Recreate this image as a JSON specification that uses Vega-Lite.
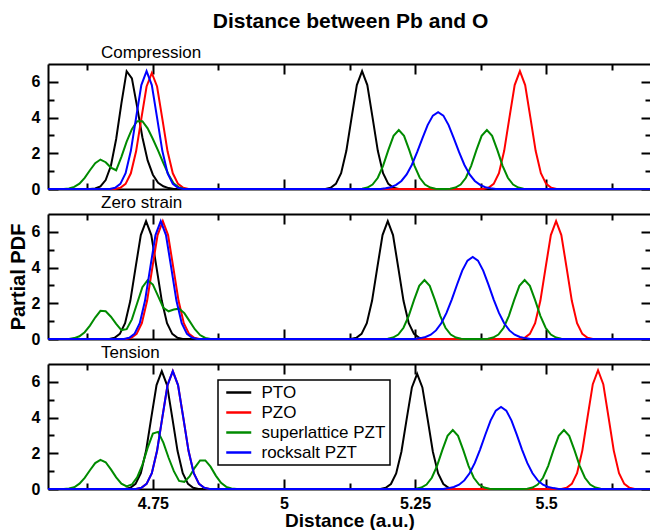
{
"$schema":"https://vega.github.io/schema/vega-lite/v6.json",
"padding":{"left":8,"top":11,"right":0,"bottom":0},
"background":"white",
"title":{"text":"Distance between Pb and O","fontSize":21,"fontWeight":"bold","font":"Liberation Sans","color":"black","anchor":"middle","dx":19,"offset":12},
"config":{
 "view":{"stroke":null},
 "axis":{"domainColor":"black","domainWidth":2,"tickColor":"black","tickWidth":2,"labelFont":"Liberation Sans","labelFontWeight":"bold","labelFontSize":16,"labelColor":"black","titleFont":"Liberation Sans","titleFontWeight":"bold","titleFontSize":19,"titleColor":"black","grid":false},
 "legend":{"strokeWidth":1.5},
 "title":{"font":"Liberation Sans","color":"black"}
},
"data":{"values":[
{"p":"C","s":"PTO","x":4.55,"y":0},{"p":"C","s":"PTO","x":4.63,"y":0},{"p":"C","s":"PTO","x":4.64,"y":0.03},{"p":"C","s":"PTO","x":4.65,"y":0.15},{"p":"C","s":"PTO","x":4.66,"y":0.5},{"p":"C","s":"PTO","x":4.67,"y":1.3},{"p":"C","s":"PTO","x":4.68,"y":2.8},{"p":"C","s":"PTO","x":4.69,"y":4.8},{"p":"C","s":"PTO","x":4.70,"y":6.6},{"p":"C","s":"PTO","x":4.71,"y":6.2},{"p":"C","s":"PTO","x":4.72,"y":4.6},{"p":"C","s":"PTO","x":4.73,"y":2.9},{"p":"C","s":"PTO","x":4.74,"y":1.6},{"p":"C","s":"PTO","x":4.75,"y":0.8},{"p":"C","s":"PTO","x":4.76,"y":0.35},{"p":"C","s":"PTO","x":4.77,"y":0.15},{"p":"C","s":"PTO","x":4.78,"y":0.05},{"p":"C","s":"PTO","x":4.79,"y":0},
{"p":"C","s":"PTO","x":5.079,"y":0},{"p":"C","s":"PTO","x":5.089,"y":0.07},{"p":"C","s":"PTO","x":5.099,"y":0.29},{"p":"C","s":"PTO","x":5.109,"y":0.89},{"p":"C","s":"PTO","x":5.119,"y":2.14},{"p":"C","s":"PTO","x":5.129,"y":4.0},{"p":"C","s":"PTO","x":5.139,"y":5.82},{"p":"C","s":"PTO","x":5.149,"y":6.6},{"p":"C","s":"PTO","x":5.159,"y":5.82},{"p":"C","s":"PTO","x":5.169,"y":4.0},{"p":"C","s":"PTO","x":5.179,"y":2.14},{"p":"C","s":"PTO","x":5.189,"y":0.89},{"p":"C","s":"PTO","x":5.199,"y":0.29},{"p":"C","s":"PTO","x":5.209,"y":0.07},{"p":"C","s":"PTO","x":5.219,"y":0},{"p":"C","s":"PTO","x":5.70,"y":0},
{"p":"C","s":"PZO","x":4.55,"y":0},{"p":"C","s":"PZO","x":4.678,"y":0},{"p":"C","s":"PZO","x":4.688,"y":0.07},{"p":"C","s":"PZO","x":4.698,"y":0.29},{"p":"C","s":"PZO","x":4.708,"y":0.88},{"p":"C","s":"PZO","x":4.718,"y":2.11},{"p":"C","s":"PZO","x":4.728,"y":3.94},{"p":"C","s":"PZO","x":4.738,"y":5.74},{"p":"C","s":"PZO","x":4.748,"y":6.5},{"p":"C","s":"PZO","x":4.758,"y":5.74},{"p":"C","s":"PZO","x":4.768,"y":3.94},{"p":"C","s":"PZO","x":4.778,"y":2.11},{"p":"C","s":"PZO","x":4.788,"y":0.88},{"p":"C","s":"PZO","x":4.798,"y":0.29},{"p":"C","s":"PZO","x":4.808,"y":0.07},{"p":"C","s":"PZO","x":4.818,"y":0},
{"p":"C","s":"PZO","x":5.38,"y":0},{"p":"C","s":"PZO","x":5.39,"y":0.07},{"p":"C","s":"PZO","x":5.40,"y":0.29},{"p":"C","s":"PZO","x":5.41,"y":0.89},{"p":"C","s":"PZO","x":5.42,"y":2.14},{"p":"C","s":"PZO","x":5.43,"y":4.0},{"p":"C","s":"PZO","x":5.44,"y":5.82},{"p":"C","s":"PZO","x":5.45,"y":6.6},{"p":"C","s":"PZO","x":5.46,"y":5.82},{"p":"C","s":"PZO","x":5.47,"y":4.0},{"p":"C","s":"PZO","x":5.48,"y":2.14},{"p":"C","s":"PZO","x":5.49,"y":0.89},{"p":"C","s":"PZO","x":5.50,"y":0.29},{"p":"C","s":"PZO","x":5.51,"y":0.07},{"p":"C","s":"PZO","x":5.52,"y":0},{"p":"C","s":"PZO","x":5.70,"y":0},
{"p":"C","s":"superlattice PZT","x":4.55,"y":0},{"p":"C","s":"superlattice PZT","x":4.58,"y":0},{"p":"C","s":"superlattice PZT","x":4.59,"y":0.03},{"p":"C","s":"superlattice PZT","x":4.60,"y":0.12},{"p":"C","s":"superlattice PZT","x":4.61,"y":0.3},{"p":"C","s":"superlattice PZT","x":4.62,"y":0.62},{"p":"C","s":"superlattice PZT","x":4.63,"y":1.05},{"p":"C","s":"superlattice PZT","x":4.64,"y":1.45},{"p":"C","s":"superlattice PZT","x":4.65,"y":1.65},{"p":"C","s":"superlattice PZT","x":4.66,"y":1.5},{"p":"C","s":"superlattice PZT","x":4.67,"y":1.2},{"p":"C","s":"superlattice PZT","x":4.68,"y":1.05},{"p":"C","s":"superlattice PZT","x":4.69,"y":1.8},{"p":"C","s":"superlattice PZT","x":4.70,"y":2.65},{"p":"C","s":"superlattice PZT","x":4.71,"y":3.35},{"p":"C","s":"superlattice PZT","x":4.72,"y":3.8},{"p":"C","s":"superlattice PZT","x":4.73,"y":3.8},{"p":"C","s":"superlattice PZT","x":4.74,"y":3.4},{"p":"C","s":"superlattice PZT","x":4.75,"y":2.8},{"p":"C","s":"superlattice PZT","x":4.76,"y":2.15},{"p":"C","s":"superlattice PZT","x":4.77,"y":1.45},{"p":"C","s":"superlattice PZT","x":4.78,"y":0.8},{"p":"C","s":"superlattice PZT","x":4.79,"y":0.3},{"p":"C","s":"superlattice PZT","x":4.80,"y":0.08},{"p":"C","s":"superlattice PZT","x":4.81,"y":0},
{"p":"C","s":"superlattice PZT","x":5.139,"y":0},{"p":"C","s":"superlattice PZT","x":5.149,"y":0.02},{"p":"C","s":"superlattice PZT","x":5.159,"y":0.08},{"p":"C","s":"superlattice PZT","x":5.169,"y":0.25},{"p":"C","s":"superlattice PZT","x":5.179,"y":0.63},{"p":"C","s":"superlattice PZT","x":5.189,"y":1.3},{"p":"C","s":"superlattice PZT","x":5.199,"y":2.18},{"p":"C","s":"superlattice PZT","x":5.209,"y":2.98},{"p":"C","s":"superlattice PZT","x":5.219,"y":3.3},{"p":"C","s":"superlattice PZT","x":5.229,"y":2.98},{"p":"C","s":"superlattice PZT","x":5.239,"y":2.18},{"p":"C","s":"superlattice PZT","x":5.249,"y":1.3},{"p":"C","s":"superlattice PZT","x":5.259,"y":0.63},{"p":"C","s":"superlattice PZT","x":5.269,"y":0.25},{"p":"C","s":"superlattice PZT","x":5.279,"y":0.08},{"p":"C","s":"superlattice PZT","x":5.289,"y":0.02},{"p":"C","s":"superlattice PZT","x":5.299,"y":0},
{"p":"C","s":"superlattice PZT","x":5.307,"y":0},{"p":"C","s":"superlattice PZT","x":5.317,"y":0.02},{"p":"C","s":"superlattice PZT","x":5.327,"y":0.08},{"p":"C","s":"superlattice PZT","x":5.337,"y":0.25},{"p":"C","s":"superlattice PZT","x":5.347,"y":0.63},{"p":"C","s":"superlattice PZT","x":5.357,"y":1.3},{"p":"C","s":"superlattice PZT","x":5.367,"y":2.18},{"p":"C","s":"superlattice PZT","x":5.377,"y":2.98},{"p":"C","s":"superlattice PZT","x":5.387,"y":3.3},{"p":"C","s":"superlattice PZT","x":5.397,"y":2.98},{"p":"C","s":"superlattice PZT","x":5.407,"y":2.18},{"p":"C","s":"superlattice PZT","x":5.417,"y":1.3},{"p":"C","s":"superlattice PZT","x":5.427,"y":0.63},{"p":"C","s":"superlattice PZT","x":5.437,"y":0.25},{"p":"C","s":"superlattice PZT","x":5.447,"y":0.08},{"p":"C","s":"superlattice PZT","x":5.457,"y":0.02},{"p":"C","s":"superlattice PZT","x":5.467,"y":0},{"p":"C","s":"superlattice PZT","x":5.70,"y":0},
{"p":"C","s":"rocksalt PZT","x":4.55,"y":0},{"p":"C","s":"rocksalt PZT","x":4.668,"y":0},{"p":"C","s":"rocksalt PZT","x":4.678,"y":0.07},{"p":"C","s":"rocksalt PZT","x":4.688,"y":0.29},{"p":"C","s":"rocksalt PZT","x":4.698,"y":0.89},{"p":"C","s":"rocksalt PZT","x":4.708,"y":2.14},{"p":"C","s":"rocksalt PZT","x":4.718,"y":4.0},{"p":"C","s":"rocksalt PZT","x":4.728,"y":5.82},{"p":"C","s":"rocksalt PZT","x":4.738,"y":6.6},{"p":"C","s":"rocksalt PZT","x":4.748,"y":5.82},{"p":"C","s":"rocksalt PZT","x":4.758,"y":4.0},{"p":"C","s":"rocksalt PZT","x":4.768,"y":2.14},{"p":"C","s":"rocksalt PZT","x":4.778,"y":0.89},{"p":"C","s":"rocksalt PZT","x":4.788,"y":0.29},{"p":"C","s":"rocksalt PZT","x":4.798,"y":0.07},{"p":"C","s":"rocksalt PZT","x":4.808,"y":0},
{"p":"C","s":"rocksalt PZT","x":5.184,"y":0},{"p":"C","s":"rocksalt PZT","x":5.194,"y":0.04},{"p":"C","s":"rocksalt PZT","x":5.204,"y":0.1},{"p":"C","s":"rocksalt PZT","x":5.214,"y":0.23},{"p":"C","s":"rocksalt PZT","x":5.224,"y":0.45},{"p":"C","s":"rocksalt PZT","x":5.234,"y":0.82},{"p":"C","s":"rocksalt PZT","x":5.244,"y":1.36},{"p":"C","s":"rocksalt PZT","x":5.254,"y":2.06},{"p":"C","s":"rocksalt PZT","x":5.264,"y":2.84},{"p":"C","s":"rocksalt PZT","x":5.274,"y":3.58},{"p":"C","s":"rocksalt PZT","x":5.284,"y":4.11},{"p":"C","s":"rocksalt PZT","x":5.294,"y":4.3},{"p":"C","s":"rocksalt PZT","x":5.304,"y":4.11},{"p":"C","s":"rocksalt PZT","x":5.314,"y":3.58},{"p":"C","s":"rocksalt PZT","x":5.324,"y":2.84},{"p":"C","s":"rocksalt PZT","x":5.334,"y":2.06},{"p":"C","s":"rocksalt PZT","x":5.344,"y":1.36},{"p":"C","s":"rocksalt PZT","x":5.354,"y":0.82},{"p":"C","s":"rocksalt PZT","x":5.364,"y":0.45},{"p":"C","s":"rocksalt PZT","x":5.374,"y":0.23},{"p":"C","s":"rocksalt PZT","x":5.384,"y":0.1},{"p":"C","s":"rocksalt PZT","x":5.394,"y":0.04},{"p":"C","s":"rocksalt PZT","x":5.404,"y":0},{"p":"C","s":"rocksalt PZT","x":5.70,"y":0},
{"p":"Z","s":"PTO","x":4.55,"y":0},{"p":"Z","s":"PTO","x":4.667,"y":0},{"p":"Z","s":"PTO","x":4.677,"y":0.07},{"p":"Z","s":"PTO","x":4.687,"y":0.29},{"p":"Z","s":"PTO","x":4.697,"y":0.89},{"p":"Z","s":"PTO","x":4.707,"y":2.14},{"p":"Z","s":"PTO","x":4.717,"y":4.0},{"p":"Z","s":"PTO","x":4.727,"y":5.82},{"p":"Z","s":"PTO","x":4.737,"y":6.6},{"p":"Z","s":"PTO","x":4.747,"y":5.82},{"p":"Z","s":"PTO","x":4.757,"y":4.0},{"p":"Z","s":"PTO","x":4.767,"y":2.14},{"p":"Z","s":"PTO","x":4.777,"y":0.89},{"p":"Z","s":"PTO","x":4.787,"y":0.29},{"p":"Z","s":"PTO","x":4.797,"y":0.07},{"p":"Z","s":"PTO","x":4.807,"y":0},
{"p":"Z","s":"PTO","x":5.128,"y":0},{"p":"Z","s":"PTO","x":5.138,"y":0.07},{"p":"Z","s":"PTO","x":5.148,"y":0.29},{"p":"Z","s":"PTO","x":5.158,"y":0.89},{"p":"Z","s":"PTO","x":5.168,"y":2.14},{"p":"Z","s":"PTO","x":5.178,"y":4.0},{"p":"Z","s":"PTO","x":5.188,"y":5.82},{"p":"Z","s":"PTO","x":5.198,"y":6.6},{"p":"Z","s":"PTO","x":5.208,"y":5.82},{"p":"Z","s":"PTO","x":5.218,"y":4.0},{"p":"Z","s":"PTO","x":5.228,"y":2.14},{"p":"Z","s":"PTO","x":5.238,"y":0.89},{"p":"Z","s":"PTO","x":5.248,"y":0.29},{"p":"Z","s":"PTO","x":5.258,"y":0.07},{"p":"Z","s":"PTO","x":5.268,"y":0},{"p":"Z","s":"PTO","x":5.70,"y":0},
{"p":"Z","s":"PZO","x":4.55,"y":0},{"p":"Z","s":"PZO","x":4.699,"y":0},{"p":"Z","s":"PZO","x":4.709,"y":0.07},{"p":"Z","s":"PZO","x":4.719,"y":0.29},{"p":"Z","s":"PZO","x":4.729,"y":0.89},{"p":"Z","s":"PZO","x":4.739,"y":2.14},{"p":"Z","s":"PZO","x":4.749,"y":4.0},{"p":"Z","s":"PZO","x":4.759,"y":5.82},{"p":"Z","s":"PZO","x":4.769,"y":6.6},{"p":"Z","s":"PZO","x":4.779,"y":5.82},{"p":"Z","s":"PZO","x":4.789,"y":4.0},{"p":"Z","s":"PZO","x":4.799,"y":2.14},{"p":"Z","s":"PZO","x":4.809,"y":0.89},{"p":"Z","s":"PZO","x":4.819,"y":0.29},{"p":"Z","s":"PZO","x":4.829,"y":0.07},{"p":"Z","s":"PZO","x":4.839,"y":0},
{"p":"Z","s":"PZO","x":5.449,"y":0},{"p":"Z","s":"PZO","x":5.459,"y":0.07},{"p":"Z","s":"PZO","x":5.469,"y":0.29},{"p":"Z","s":"PZO","x":5.479,"y":0.89},{"p":"Z","s":"PZO","x":5.489,"y":2.14},{"p":"Z","s":"PZO","x":5.499,"y":4.0},{"p":"Z","s":"PZO","x":5.509,"y":5.82},{"p":"Z","s":"PZO","x":5.519,"y":6.6},{"p":"Z","s":"PZO","x":5.529,"y":5.82},{"p":"Z","s":"PZO","x":5.539,"y":4.0},{"p":"Z","s":"PZO","x":5.549,"y":2.14},{"p":"Z","s":"PZO","x":5.559,"y":0.89},{"p":"Z","s":"PZO","x":5.569,"y":0.29},{"p":"Z","s":"PZO","x":5.579,"y":0.07},{"p":"Z","s":"PZO","x":5.589,"y":0},{"p":"Z","s":"PZO","x":5.70,"y":0},
{"p":"Z","s":"superlattice PZT","x":4.55,"y":0},{"p":"Z","s":"superlattice PZT","x":4.59,"y":0},{"p":"Z","s":"superlattice PZT","x":4.60,"y":0.05},{"p":"Z","s":"superlattice PZT","x":4.61,"y":0.15},{"p":"Z","s":"superlattice PZT","x":4.62,"y":0.38},{"p":"Z","s":"superlattice PZT","x":4.63,"y":0.75},{"p":"Z","s":"superlattice PZT","x":4.64,"y":1.2},{"p":"Z","s":"superlattice PZT","x":4.65,"y":1.58},{"p":"Z","s":"superlattice PZT","x":4.66,"y":1.55},{"p":"Z","s":"superlattice PZT","x":4.67,"y":1.25},{"p":"Z","s":"superlattice PZT","x":4.68,"y":0.85},{"p":"Z","s":"superlattice PZT","x":4.69,"y":0.5},{"p":"Z","s":"superlattice PZT","x":4.70,"y":0.55},{"p":"Z","s":"superlattice PZT","x":4.71,"y":1.1},{"p":"Z","s":"superlattice PZT","x":4.72,"y":2.0},{"p":"Z","s":"superlattice PZT","x":4.73,"y":2.9},{"p":"Z","s":"superlattice PZT","x":4.74,"y":3.29},{"p":"Z","s":"superlattice PZT","x":4.75,"y":3.05},{"p":"Z","s":"superlattice PZT","x":4.76,"y":2.4},{"p":"Z","s":"superlattice PZT","x":4.77,"y":1.75},{"p":"Z","s":"superlattice PZT","x":4.78,"y":1.55},{"p":"Z","s":"superlattice PZT","x":4.79,"y":1.65},{"p":"Z","s":"superlattice PZT","x":4.80,"y":1.7},{"p":"Z","s":"superlattice PZT","x":4.81,"y":1.45},{"p":"Z","s":"superlattice PZT","x":4.82,"y":1.0},{"p":"Z","s":"superlattice PZT","x":4.83,"y":0.55},{"p":"Z","s":"superlattice PZT","x":4.84,"y":0.22},{"p":"Z","s":"superlattice PZT","x":4.85,"y":0.06},{"p":"Z","s":"superlattice PZT","x":4.86,"y":0},
{"p":"Z","s":"superlattice PZT","x":5.188,"y":0},{"p":"Z","s":"superlattice PZT","x":5.198,"y":0.02},{"p":"Z","s":"superlattice PZT","x":5.208,"y":0.08},{"p":"Z","s":"superlattice PZT","x":5.218,"y":0.25},{"p":"Z","s":"superlattice PZT","x":5.228,"y":0.63},{"p":"Z","s":"superlattice PZT","x":5.238,"y":1.3},{"p":"Z","s":"superlattice PZT","x":5.248,"y":2.18},{"p":"Z","s":"superlattice PZT","x":5.258,"y":2.98},{"p":"Z","s":"superlattice PZT","x":5.268,"y":3.3},{"p":"Z","s":"superlattice PZT","x":5.278,"y":2.98},{"p":"Z","s":"superlattice PZT","x":5.288,"y":2.18},{"p":"Z","s":"superlattice PZT","x":5.298,"y":1.3},{"p":"Z","s":"superlattice PZT","x":5.308,"y":0.63},{"p":"Z","s":"superlattice PZT","x":5.318,"y":0.25},{"p":"Z","s":"superlattice PZT","x":5.328,"y":0.08},{"p":"Z","s":"superlattice PZT","x":5.338,"y":0.02},{"p":"Z","s":"superlattice PZT","x":5.348,"y":0},
{"p":"Z","s":"superlattice PZT","x":5.379,"y":0},{"p":"Z","s":"superlattice PZT","x":5.389,"y":0.02},{"p":"Z","s":"superlattice PZT","x":5.399,"y":0.08},{"p":"Z","s":"superlattice PZT","x":5.409,"y":0.25},{"p":"Z","s":"superlattice PZT","x":5.419,"y":0.63},{"p":"Z","s":"superlattice PZT","x":5.429,"y":1.3},{"p":"Z","s":"superlattice PZT","x":5.439,"y":2.18},{"p":"Z","s":"superlattice PZT","x":5.449,"y":2.98},{"p":"Z","s":"superlattice PZT","x":5.459,"y":3.3},{"p":"Z","s":"superlattice PZT","x":5.469,"y":2.98},{"p":"Z","s":"superlattice PZT","x":5.479,"y":2.18},{"p":"Z","s":"superlattice PZT","x":5.489,"y":1.3},{"p":"Z","s":"superlattice PZT","x":5.499,"y":0.63},{"p":"Z","s":"superlattice PZT","x":5.509,"y":0.25},{"p":"Z","s":"superlattice PZT","x":5.519,"y":0.08},{"p":"Z","s":"superlattice PZT","x":5.529,"y":0.02},{"p":"Z","s":"superlattice PZT","x":5.539,"y":0},{"p":"Z","s":"superlattice PZT","x":5.70,"y":0},
{"p":"Z","s":"rocksalt PZT","x":4.55,"y":0},{"p":"Z","s":"rocksalt PZT","x":4.695,"y":0},{"p":"Z","s":"rocksalt PZT","x":4.705,"y":0.07},{"p":"Z","s":"rocksalt PZT","x":4.715,"y":0.29},{"p":"Z","s":"rocksalt PZT","x":4.725,"y":0.89},{"p":"Z","s":"rocksalt PZT","x":4.735,"y":2.14},{"p":"Z","s":"rocksalt PZT","x":4.745,"y":4.0},{"p":"Z","s":"rocksalt PZT","x":4.755,"y":5.82},{"p":"Z","s":"rocksalt PZT","x":4.765,"y":6.6},{"p":"Z","s":"rocksalt PZT","x":4.775,"y":5.82},{"p":"Z","s":"rocksalt PZT","x":4.785,"y":4.0},{"p":"Z","s":"rocksalt PZT","x":4.795,"y":2.14},{"p":"Z","s":"rocksalt PZT","x":4.805,"y":0.89},{"p":"Z","s":"rocksalt PZT","x":4.815,"y":0.29},{"p":"Z","s":"rocksalt PZT","x":4.825,"y":0.07},{"p":"Z","s":"rocksalt PZT","x":4.835,"y":0},
{"p":"Z","s":"rocksalt PZT","x":5.25,"y":0},{"p":"Z","s":"rocksalt PZT","x":5.26,"y":0.05},{"p":"Z","s":"rocksalt PZT","x":5.27,"y":0.11},{"p":"Z","s":"rocksalt PZT","x":5.28,"y":0.24},{"p":"Z","s":"rocksalt PZT","x":5.29,"y":0.48},{"p":"Z","s":"rocksalt PZT","x":5.30,"y":0.88},{"p":"Z","s":"rocksalt PZT","x":5.31,"y":1.46},{"p":"Z","s":"rocksalt PZT","x":5.32,"y":2.21},{"p":"Z","s":"rocksalt PZT","x":5.33,"y":3.04},{"p":"Z","s":"rocksalt PZT","x":5.34,"y":3.83},{"p":"Z","s":"rocksalt PZT","x":5.35,"y":4.39},{"p":"Z","s":"rocksalt PZT","x":5.36,"y":4.6},{"p":"Z","s":"rocksalt PZT","x":5.37,"y":4.39},{"p":"Z","s":"rocksalt PZT","x":5.38,"y":3.83},{"p":"Z","s":"rocksalt PZT","x":5.39,"y":3.04},{"p":"Z","s":"rocksalt PZT","x":5.40,"y":2.21},{"p":"Z","s":"rocksalt PZT","x":5.41,"y":1.46},{"p":"Z","s":"rocksalt PZT","x":5.42,"y":0.88},{"p":"Z","s":"rocksalt PZT","x":5.43,"y":0.48},{"p":"Z","s":"rocksalt PZT","x":5.44,"y":0.24},{"p":"Z","s":"rocksalt PZT","x":5.45,"y":0.11},{"p":"Z","s":"rocksalt PZT","x":5.46,"y":0.05},{"p":"Z","s":"rocksalt PZT","x":5.47,"y":0},{"p":"Z","s":"rocksalt PZT","x":5.70,"y":0},
{"p":"T","s":"PTO","x":4.55,"y":0},{"p":"T","s":"PTO","x":4.697,"y":0},{"p":"T","s":"PTO","x":4.707,"y":0.07},{"p":"T","s":"PTO","x":4.717,"y":0.29},{"p":"T","s":"PTO","x":4.727,"y":0.89},{"p":"T","s":"PTO","x":4.737,"y":2.14},{"p":"T","s":"PTO","x":4.747,"y":4.0},{"p":"T","s":"PTO","x":4.757,"y":5.82},{"p":"T","s":"PTO","x":4.767,"y":6.6},{"p":"T","s":"PTO","x":4.777,"y":5.82},{"p":"T","s":"PTO","x":4.787,"y":4.0},{"p":"T","s":"PTO","x":4.797,"y":2.14},{"p":"T","s":"PTO","x":4.807,"y":0.89},{"p":"T","s":"PTO","x":4.817,"y":0.29},{"p":"T","s":"PTO","x":4.827,"y":0.07},{"p":"T","s":"PTO","x":4.837,"y":0},
{"p":"T","s":"PTO","x":5.184,"y":0},{"p":"T","s":"PTO","x":5.194,"y":0.07},{"p":"T","s":"PTO","x":5.204,"y":0.28},{"p":"T","s":"PTO","x":5.214,"y":0.87},{"p":"T","s":"PTO","x":5.224,"y":2.09},{"p":"T","s":"PTO","x":5.234,"y":3.91},{"p":"T","s":"PTO","x":5.244,"y":5.69},{"p":"T","s":"PTO","x":5.254,"y":6.45},{"p":"T","s":"PTO","x":5.264,"y":5.69},{"p":"T","s":"PTO","x":5.274,"y":3.91},{"p":"T","s":"PTO","x":5.284,"y":2.09},{"p":"T","s":"PTO","x":5.294,"y":0.87},{"p":"T","s":"PTO","x":5.304,"y":0.28},{"p":"T","s":"PTO","x":5.314,"y":0.07},{"p":"T","s":"PTO","x":5.324,"y":0},{"p":"T","s":"PTO","x":5.70,"y":0},
{"p":"T","s":"PZO","x":4.55,"y":0},{"p":"T","s":"PZO","x":4.718,"y":0},{"p":"T","s":"PZO","x":4.728,"y":0.07},{"p":"T","s":"PZO","x":4.738,"y":0.29},{"p":"T","s":"PZO","x":4.748,"y":0.89},{"p":"T","s":"PZO","x":4.758,"y":2.14},{"p":"T","s":"PZO","x":4.768,"y":4.0},{"p":"T","s":"PZO","x":4.778,"y":5.82},{"p":"T","s":"PZO","x":4.788,"y":6.6},{"p":"T","s":"PZO","x":4.798,"y":5.82},{"p":"T","s":"PZO","x":4.808,"y":4.0},{"p":"T","s":"PZO","x":4.818,"y":2.14},{"p":"T","s":"PZO","x":4.828,"y":0.89},{"p":"T","s":"PZO","x":4.838,"y":0.29},{"p":"T","s":"PZO","x":4.848,"y":0.07},{"p":"T","s":"PZO","x":4.858,"y":0},
{"p":"T","s":"PZO","x":5.529,"y":0},{"p":"T","s":"PZO","x":5.539,"y":0.07},{"p":"T","s":"PZO","x":5.549,"y":0.29},{"p":"T","s":"PZO","x":5.559,"y":0.89},{"p":"T","s":"PZO","x":5.569,"y":2.15},{"p":"T","s":"PZO","x":5.579,"y":4.03},{"p":"T","s":"PZO","x":5.589,"y":5.87},{"p":"T","s":"PZO","x":5.599,"y":6.65},{"p":"T","s":"PZO","x":5.609,"y":5.87},{"p":"T","s":"PZO","x":5.619,"y":4.03},{"p":"T","s":"PZO","x":5.629,"y":2.15},{"p":"T","s":"PZO","x":5.639,"y":0.89},{"p":"T","s":"PZO","x":5.649,"y":0.29},{"p":"T","s":"PZO","x":5.659,"y":0.07},{"p":"T","s":"PZO","x":5.669,"y":0},{"p":"T","s":"PZO","x":5.70,"y":0},
{"p":"T","s":"superlattice PZT","x":4.55,"y":0},{"p":"T","s":"superlattice PZT","x":4.58,"y":0},{"p":"T","s":"superlattice PZT","x":4.59,"y":0.03},{"p":"T","s":"superlattice PZT","x":4.60,"y":0.1},{"p":"T","s":"superlattice PZT","x":4.61,"y":0.3},{"p":"T","s":"superlattice PZT","x":4.62,"y":0.62},{"p":"T","s":"superlattice PZT","x":4.63,"y":1.05},{"p":"T","s":"superlattice PZT","x":4.64,"y":1.45},{"p":"T","s":"superlattice PZT","x":4.65,"y":1.63},{"p":"T","s":"superlattice PZT","x":4.66,"y":1.5},{"p":"T","s":"superlattice PZT","x":4.67,"y":1.1},{"p":"T","s":"superlattice PZT","x":4.68,"y":0.65},{"p":"T","s":"superlattice PZT","x":4.69,"y":0.3},{"p":"T","s":"superlattice PZT","x":4.70,"y":0.14},{"p":"T","s":"superlattice PZT","x":4.71,"y":0.25},{"p":"T","s":"superlattice PZT","x":4.72,"y":0.65},{"p":"T","s":"superlattice PZT","x":4.73,"y":1.35},{"p":"T","s":"superlattice PZT","x":4.74,"y":2.3},{"p":"T","s":"superlattice PZT","x":4.75,"y":3.1},{"p":"T","s":"superlattice PZT","x":4.76,"y":3.2},{"p":"T","s":"superlattice PZT","x":4.77,"y":2.6},{"p":"T","s":"superlattice PZT","x":4.78,"y":1.75},{"p":"T","s":"superlattice PZT","x":4.79,"y":1.0},{"p":"T","s":"superlattice PZT","x":4.80,"y":0.45},{"p":"T","s":"superlattice PZT","x":4.81,"y":0.4},{"p":"T","s":"superlattice PZT","x":4.82,"y":0.7},{"p":"T","s":"superlattice PZT","x":4.83,"y":1.2},{"p":"T","s":"superlattice PZT","x":4.84,"y":1.6},{"p":"T","s":"superlattice PZT","x":4.85,"y":1.6},{"p":"T","s":"superlattice PZT","x":4.86,"y":1.25},{"p":"T","s":"superlattice PZT","x":4.87,"y":0.75},{"p":"T","s":"superlattice PZT","x":4.88,"y":0.35},{"p":"T","s":"superlattice PZT","x":4.89,"y":0.12},{"p":"T","s":"superlattice PZT","x":4.90,"y":0.03},{"p":"T","s":"superlattice PZT","x":4.91,"y":0},
{"p":"T","s":"superlattice PZT","x":5.242,"y":0},{"p":"T","s":"superlattice PZT","x":5.252,"y":0.02},{"p":"T","s":"superlattice PZT","x":5.262,"y":0.08},{"p":"T","s":"superlattice PZT","x":5.272,"y":0.25},{"p":"T","s":"superlattice PZT","x":5.282,"y":0.63},{"p":"T","s":"superlattice PZT","x":5.292,"y":1.3},{"p":"T","s":"superlattice PZT","x":5.302,"y":2.18},{"p":"T","s":"superlattice PZT","x":5.312,"y":2.98},{"p":"T","s":"superlattice PZT","x":5.322,"y":3.3},{"p":"T","s":"superlattice PZT","x":5.332,"y":2.98},{"p":"T","s":"superlattice PZT","x":5.342,"y":2.18},{"p":"T","s":"superlattice PZT","x":5.352,"y":1.3},{"p":"T","s":"superlattice PZT","x":5.362,"y":0.63},{"p":"T","s":"superlattice PZT","x":5.372,"y":0.25},{"p":"T","s":"superlattice PZT","x":5.382,"y":0.08},{"p":"T","s":"superlattice PZT","x":5.392,"y":0.02},{"p":"T","s":"superlattice PZT","x":5.402,"y":0},
{"p":"T","s":"superlattice PZT","x":5.454,"y":0},{"p":"T","s":"superlattice PZT","x":5.464,"y":0.02},{"p":"T","s":"superlattice PZT","x":5.474,"y":0.08},{"p":"T","s":"superlattice PZT","x":5.484,"y":0.25},{"p":"T","s":"superlattice PZT","x":5.494,"y":0.63},{"p":"T","s":"superlattice PZT","x":5.504,"y":1.3},{"p":"T","s":"superlattice PZT","x":5.514,"y":2.18},{"p":"T","s":"superlattice PZT","x":5.524,"y":2.98},{"p":"T","s":"superlattice PZT","x":5.534,"y":3.3},{"p":"T","s":"superlattice PZT","x":5.544,"y":2.98},{"p":"T","s":"superlattice PZT","x":5.554,"y":2.18},{"p":"T","s":"superlattice PZT","x":5.564,"y":1.3},{"p":"T","s":"superlattice PZT","x":5.574,"y":0.63},{"p":"T","s":"superlattice PZT","x":5.584,"y":0.25},{"p":"T","s":"superlattice PZT","x":5.594,"y":0.08},{"p":"T","s":"superlattice PZT","x":5.604,"y":0.02},{"p":"T","s":"superlattice PZT","x":5.614,"y":0},{"p":"T","s":"superlattice PZT","x":5.70,"y":0},
{"p":"T","s":"rocksalt PZT","x":4.55,"y":0},{"p":"T","s":"rocksalt PZT","x":4.718,"y":0},{"p":"T","s":"rocksalt PZT","x":4.728,"y":0.07},{"p":"T","s":"rocksalt PZT","x":4.738,"y":0.29},{"p":"T","s":"rocksalt PZT","x":4.748,"y":0.89},{"p":"T","s":"rocksalt PZT","x":4.758,"y":2.14},{"p":"T","s":"rocksalt PZT","x":4.768,"y":4.0},{"p":"T","s":"rocksalt PZT","x":4.778,"y":5.82},{"p":"T","s":"rocksalt PZT","x":4.788,"y":6.6},{"p":"T","s":"rocksalt PZT","x":4.798,"y":5.82},{"p":"T","s":"rocksalt PZT","x":4.808,"y":4.0},{"p":"T","s":"rocksalt PZT","x":4.818,"y":2.14},{"p":"T","s":"rocksalt PZT","x":4.828,"y":0.89},{"p":"T","s":"rocksalt PZT","x":4.838,"y":0.29},{"p":"T","s":"rocksalt PZT","x":4.848,"y":0.07},{"p":"T","s":"rocksalt PZT","x":4.858,"y":0},
{"p":"T","s":"rocksalt PZT","x":5.304,"y":0},{"p":"T","s":"rocksalt PZT","x":5.314,"y":0.05},{"p":"T","s":"rocksalt PZT","x":5.324,"y":0.11},{"p":"T","s":"rocksalt PZT","x":5.334,"y":0.24},{"p":"T","s":"rocksalt PZT","x":5.344,"y":0.48},{"p":"T","s":"rocksalt PZT","x":5.354,"y":0.88},{"p":"T","s":"rocksalt PZT","x":5.364,"y":1.46},{"p":"T","s":"rocksalt PZT","x":5.374,"y":2.21},{"p":"T","s":"rocksalt PZT","x":5.384,"y":3.04},{"p":"T","s":"rocksalt PZT","x":5.394,"y":3.83},{"p":"T","s":"rocksalt PZT","x":5.404,"y":4.39},{"p":"T","s":"rocksalt PZT","x":5.414,"y":4.6},{"p":"T","s":"rocksalt PZT","x":5.424,"y":4.39},{"p":"T","s":"rocksalt PZT","x":5.434,"y":3.83},{"p":"T","s":"rocksalt PZT","x":5.444,"y":3.04},{"p":"T","s":"rocksalt PZT","x":5.454,"y":2.21},{"p":"T","s":"rocksalt PZT","x":5.464,"y":1.46},{"p":"T","s":"rocksalt PZT","x":5.474,"y":0.88},{"p":"T","s":"rocksalt PZT","x":5.484,"y":0.48},{"p":"T","s":"rocksalt PZT","x":5.494,"y":0.24},{"p":"T","s":"rocksalt PZT","x":5.504,"y":0.11},{"p":"T","s":"rocksalt PZT","x":5.514,"y":0.05},{"p":"T","s":"rocksalt PZT","x":5.524,"y":0},{"p":"T","s":"rocksalt PZT","x":5.70,"y":0}
]},
"spacing":25,
"bounds":"flush",
"resolve":{"scale":{"color":"independent"},"legend":{"color":"independent"}},
"vconcat":[
{
 "width":603,"height":125,
 "title":{"text":"Compression","anchor":"start","frame":"group","dx":53,"offset":1,"fontSize":17,"fontWeight":"normal"},
 "transform":[{"filter":"datum.p == 'C'"}],
 "layer":[
  {"mark":{"type":"line","strokeWidth":2},
   "encoding":{
    "x":{"field":"x","type":"quantitative","scale":{"domain":[4.55,5.7],"nice":false,"zero":false},"axis":{"orient":"bottom","values":[4.75,5,5.25,5.5],"tickSize":-10,"labels":false,"title":null}},
    "y":{"field":"y","type":"quantitative","scale":{"domain":[0,7],"nice":false},"axis":{"orient":"left","values":[0,2,4,6],"tickSize":-10,"labelPadding":18,"format":"d","title":null}},
    "color":{"field":"s","type":"nominal","scale":{"domain":["PTO","PZO","superlattice PZT","rocksalt PZT"],"range":["#000000","#ff0000","#008b00","#0000ff"]},"legend":null}
   }},
  {"mark":{"type":"point","opacity":0},
   "encoding":{
    "x":{"field":"x","type":"quantitative","scale":{"domain":[4.55,5.7],"nice":false,"zero":false},"axis":{"orient":"bottom","values":[4.625,4.875,5.125,5.375,5.625],"tickSize":-6,"labels":false,"domain":false,"title":null}},
    "y":{"field":"y","type":"quantitative","scale":{"domain":[0,7],"nice":false},"axis":{"orient":"left","values":[1,3,5],"tickSize":-6,"labels":false,"domain":false,"title":null}}
   }},
  {"mark":{"type":"point","opacity":0},
   "encoding":{
    "x":{"field":"x","type":"quantitative","scale":{"domain":[4.55,5.7],"nice":false,"zero":false},"axis":{"orient":"top","values":[4.75,5,5.25,5.5],"tickSize":-10,"labels":false,"title":null}},
    "y":{"field":"y","type":"quantitative","scale":{"domain":[0,7],"nice":false},"axis":{"orient":"right","values":[0,2,4,6],"tickSize":-10,"labels":false,"title":null}}
   }},
  {"mark":{"type":"point","opacity":0},
   "encoding":{
    "x":{"field":"x","type":"quantitative","scale":{"domain":[4.55,5.7],"nice":false,"zero":false},"axis":{"orient":"top","values":[4.625,4.875,5.125,5.375,5.625],"tickSize":-6,"labels":false,"domain":false,"title":null}},
    "y":{"field":"y","type":"quantitative","scale":{"domain":[0,7],"nice":false},"axis":{"orient":"right","values":[1,3,5],"tickSize":-6,"labels":false,"domain":false,"title":null}}
   }}
 ],
 "resolve":{"axis":{"x":"independent","y":"independent"}}
},
{
 "width":603,"height":125,
 "title":{"text":"Zero strain","anchor":"start","frame":"group","dx":53,"offset":1,"fontSize":17,"fontWeight":"normal"},
 "transform":[{"filter":"datum.p == 'Z'"}],
 "layer":[
  {"mark":{"type":"line","strokeWidth":2},
   "encoding":{
    "x":{"field":"x","type":"quantitative","scale":{"domain":[4.55,5.7],"nice":false,"zero":false},"axis":{"orient":"bottom","values":[4.75,5,5.25,5.5],"tickSize":-10,"labels":false,"title":null}},
    "y":{"field":"y","type":"quantitative","scale":{"domain":[0,7],"nice":false},"axis":{"orient":"left","values":[0,2,4,6],"tickSize":-10,"labelPadding":18,"format":"d","title":"Partial PDF","titlePadding":3,"titleFontSize":20}},
    "color":{"field":"s","type":"nominal","scale":{"domain":["PTO","PZO","superlattice PZT","rocksalt PZT"],"range":["#000000","#ff0000","#008b00","#0000ff"]},"legend":null}
   }},
  {"mark":{"type":"point","opacity":0},
   "encoding":{
    "x":{"field":"x","type":"quantitative","scale":{"domain":[4.55,5.7],"nice":false,"zero":false},"axis":{"orient":"bottom","values":[4.625,4.875,5.125,5.375,5.625],"tickSize":-6,"labels":false,"domain":false,"title":null}},
    "y":{"field":"y","type":"quantitative","scale":{"domain":[0,7],"nice":false},"axis":{"orient":"left","values":[1,3,5],"tickSize":-6,"labels":false,"domain":false,"title":null}}
   }},
  {"mark":{"type":"point","opacity":0},
   "encoding":{
    "x":{"field":"x","type":"quantitative","scale":{"domain":[4.55,5.7],"nice":false,"zero":false},"axis":{"orient":"top","values":[4.75,5,5.25,5.5],"tickSize":-10,"labels":false,"title":null}},
    "y":{"field":"y","type":"quantitative","scale":{"domain":[0,7],"nice":false},"axis":{"orient":"right","values":[0,2,4,6],"tickSize":-10,"labels":false,"title":null}}
   }},
  {"mark":{"type":"point","opacity":0},
   "encoding":{
    "x":{"field":"x","type":"quantitative","scale":{"domain":[4.55,5.7],"nice":false,"zero":false},"axis":{"orient":"top","values":[4.625,4.875,5.125,5.375,5.625],"tickSize":-6,"labels":false,"domain":false,"title":null}},
    "y":{"field":"y","type":"quantitative","scale":{"domain":[0,7],"nice":false},"axis":{"orient":"right","values":[1,3,5],"tickSize":-6,"labels":false,"domain":false,"title":null}}
   }}
 ],
 "resolve":{"axis":{"x":"independent","y":"independent"}}
},
{
 "width":603,"height":125,
 "title":{"text":"Tension","anchor":"start","frame":"group","dx":53,"offset":1,"fontSize":17,"fontWeight":"normal"},
 "transform":[{"filter":"datum.p == 'T'"}],
 "layer":[
  {"mark":{"type":"line","strokeWidth":2},
   "encoding":{
    "x":{"field":"x","type":"quantitative","scale":{"domain":[4.55,5.7],"nice":false,"zero":false},"axis":{"orient":"bottom","values":[4.75,5,5.25,5.5],"tickSize":-10,"labelPadding":16,"labelExpr":"datum.value + ''","title":"Distance (a.u.)","titlePadding":0}},
    "y":{"field":"y","type":"quantitative","scale":{"domain":[0,7],"nice":false},"axis":{"orient":"left","values":[0,2,4,6],"tickSize":-10,"labelPadding":18,"format":"d","title":null}},
    "color":{"field":"s","type":"nominal","scale":{"domain":["PTO","PZO","superlattice PZT","rocksalt PZT"],"range":["#000000","#ff0000","#008b00","#0000ff"]},
      "legend":{"orient":"none","legendX":170,"legendY":16,"title":null,"symbolType":"M-0.68,0H3.32","symbolSize":156.25,"symbolStrokeWidth":2.5,"labelFontSize":17,"labelFont":"Liberation Sans","labelColor":"black","strokeColor":"black","fillColor":"white","padding":4,"rowPadding":2,"labelOffset":22.5}}
   }},
  {"mark":{"type":"point","opacity":0},
   "encoding":{
    "x":{"field":"x","type":"quantitative","scale":{"domain":[4.55,5.7],"nice":false,"zero":false},"axis":{"orient":"bottom","values":[4.625,4.875,5.125,5.375,5.625],"tickSize":-6,"labels":false,"domain":false,"title":null}},
    "y":{"field":"y","type":"quantitative","scale":{"domain":[0,7],"nice":false},"axis":{"orient":"left","values":[1,3,5],"tickSize":-6,"labels":false,"domain":false,"title":null}}
   }},
  {"mark":{"type":"point","opacity":0},
   "encoding":{
    "x":{"field":"x","type":"quantitative","scale":{"domain":[4.55,5.7],"nice":false,"zero":false},"axis":{"orient":"top","values":[4.75,5,5.25,5.5],"tickSize":-10,"labels":false,"title":null}},
    "y":{"field":"y","type":"quantitative","scale":{"domain":[0,7],"nice":false},"axis":{"orient":"right","values":[0,2,4,6],"tickSize":-10,"labels":false,"title":null}}
   }},
  {"mark":{"type":"point","opacity":0},
   "encoding":{
    "x":{"field":"x","type":"quantitative","scale":{"domain":[4.55,5.7],"nice":false,"zero":false},"axis":{"orient":"top","values":[4.625,4.875,5.125,5.375,5.625],"tickSize":-6,"labels":false,"domain":false,"title":null}},
    "y":{"field":"y","type":"quantitative","scale":{"domain":[0,7],"nice":false},"axis":{"orient":"right","values":[1,3,5],"tickSize":-6,"labels":false,"domain":false,"title":null}}
   }}
 ],
 "resolve":{"axis":{"x":"independent","y":"independent"}}
}
]
}
